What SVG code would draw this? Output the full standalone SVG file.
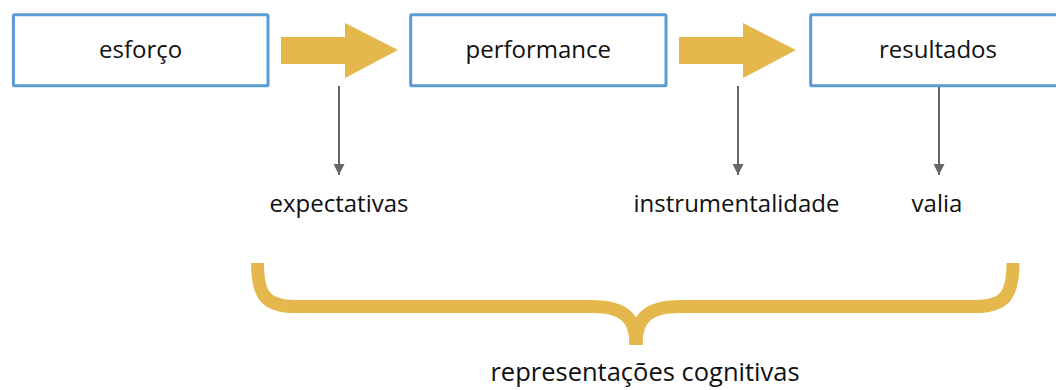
<svg xmlns="http://www.w3.org/2000/svg" width="1056" height="390" viewBox="0 0 1056 390">
<style>
.box{fill:#fff;stroke:#5b9bd5;stroke-width:3}
.lbl{font-family:"Open Sans","Noto Sans",sans-serif;font-size:24px;fill:#111;text-anchor:middle}
.big{fill:#e5b84d}
.thin{stroke:#666;stroke-width:2;fill:none}
.brace{stroke:#e5b84d;stroke-width:13;fill:none;stroke-linecap:butt}
</style>
<defs>
<marker id="ah" viewBox="0 0 10 10" refX="10" refY="5" markerWidth="7.5" markerHeight="5.5" markerUnits="strokeWidth" orient="auto">
<path d="M0,0 L10,5 L0,10 z" fill="#666"/>
</marker>
</defs>
<rect width="1056" height="390" fill="#fff"/>
<g id="esforco">
<rect class="box" x="13.4" y="14.7" width="254.6" height="71" rx="1"/>
<text class="lbl" x="140.7" y="57.5">esforço</text>
</g>
<g id="performance">
<rect class="box" x="410.7" y="14.7" width="255.3" height="71" rx="1"/>
<text class="lbl" x="538.3" y="57.5">performance</text>
</g>
<g id="resultados">
<rect class="box" x="810.7" y="14.7" width="255" height="71" rx="1"/>
<text class="lbl" x="938" y="57.5">resultados</text>
</g>
<g id="expectativas">
<text class="lbl" x="339" y="212">expectativas</text>
</g>
<g id="instrumentalidade">
<text class="lbl" x="736.5" y="212">instrumentalidade</text>
</g>
<g id="valia">
<text class="lbl" x="937" y="212">valia</text>
</g>
<g id="representacoes">
<path class="brace" d="M257.5,263 C257.5,296 266,306.5 296,306.5 H592 C624,306.5 636,318 636,345"/>
<path class="brace" d="M1013,263 C1013,296 1004,306.5 975,306.5 H680 C648,306.5 636,318 636,345"/>
<text class="lbl" x="645" y="381" style="font-size:25.5px">representações cognitivas</text>
</g>
<g id="connectors">
<polygon class="big" points="281,37 345,37 345,23 398,50 345,78 345,64 281,64"/>
<polygon class="big" points="679,37 743,37 743,23 796,50 743,78 743,64 679,64"/>
<line class="thin" x1="339" y1="86" x2="339" y2="175" marker-end="url(#ah)"/>
<line class="thin" x1="738" y1="86" x2="738" y2="175" marker-end="url(#ah)"/>
<line class="thin" x1="939" y1="87" x2="939" y2="175" marker-end="url(#ah)"/>
</g>
</svg>
